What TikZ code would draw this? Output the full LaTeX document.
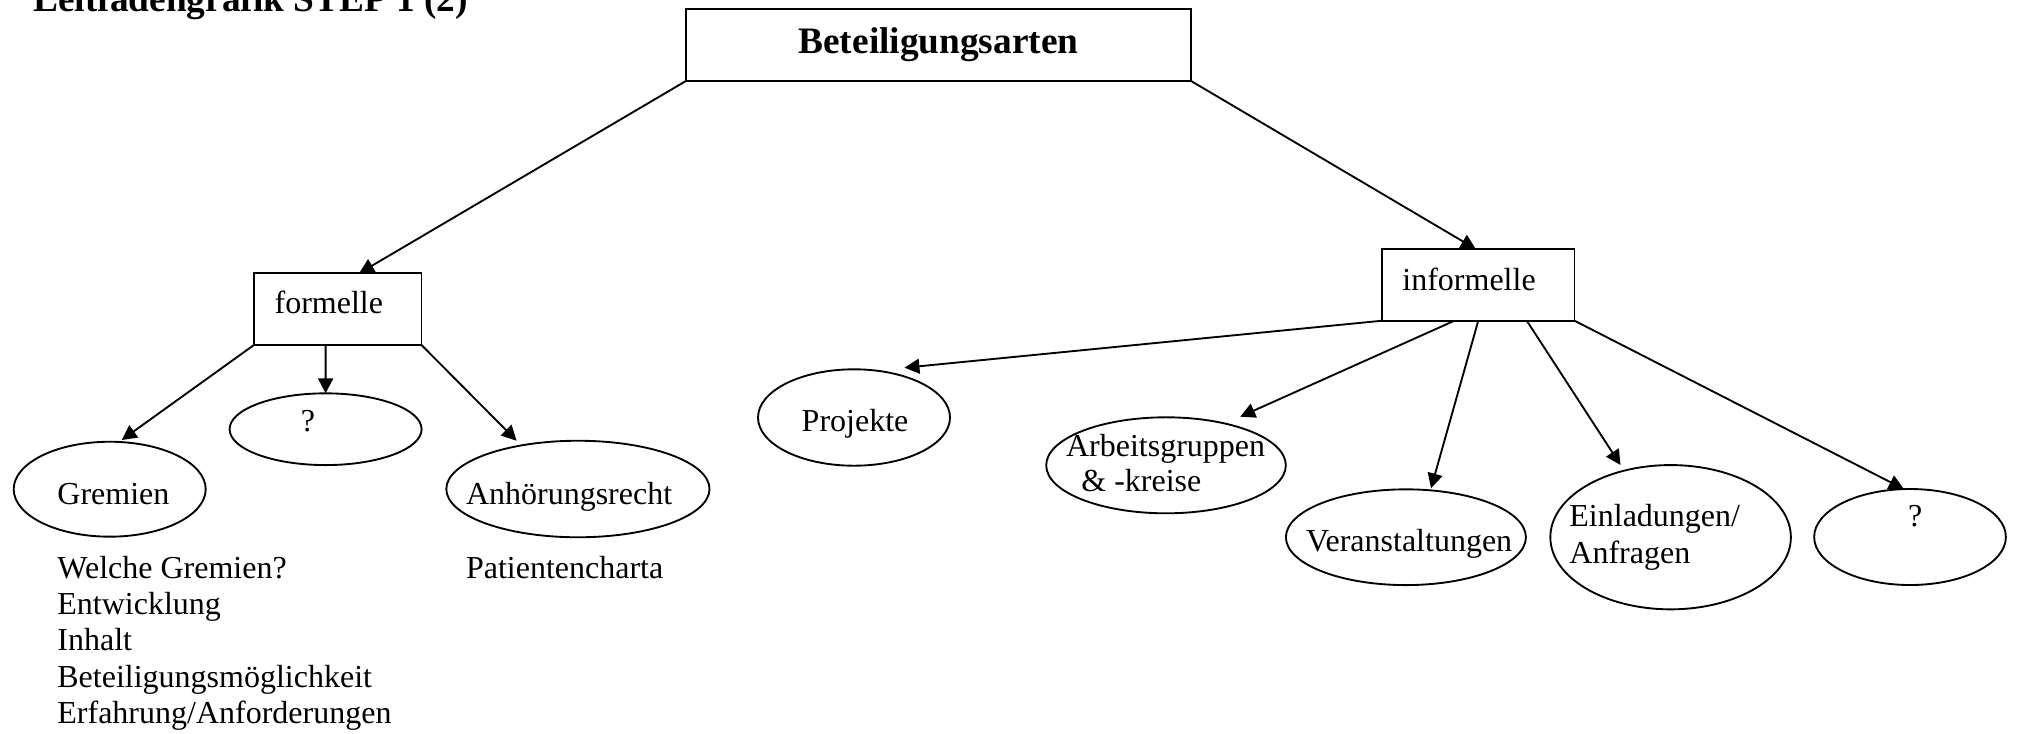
\documentclass[tikz,border=0pt]{standalone}
\usepackage{fontspec}
\setmainfont{Liberation Serif}
\usetikzlibrary{shapes.geometric,arrows.meta,calc}
\begin{document}
\begin{tikzpicture}[x=0.375pt,y=-0.375pt,
  every node/.style={inner sep=0pt, outer sep=0pt},
  body/.style={font=\fontsize{12}{13.6}\selectfont},
  txt/.style={body, anchor=base west},
  boldfont/.style={font=\bfseries\fontsize{14}{16}\selectfont},
  boxnode/.style={draw, line width=0.7pt, rectangle},
  ell/.style={draw, line width=0.7pt, ellipse},
  arr/.style={line width=0.7pt, -{Triangle[length=5.6pt,width=5.6pt]}},
]
\clip (0,0) rectangle (2018,733);

% title (cut off at the top)
\node[txt, boldfont] (title) at (33.5,11.5) {Leitfadengrafik STEP 1 (2)};

% root
\node[boxnode, boldfont, minimum width=189.1pt, minimum height=26.8pt] (root) at (938.5,45) {Beteiligungsarten};

% second level boxes
\node[boxnode, minimum width=62.85pt, minimum height=26.9pt] (form) at (337.7,309.15) {};
\node[txt] (formt) at ($(form.center)+(-63.1,3.85)$) {formelle};
\node[boxnode, minimum width=72.2pt, minimum height=26.9pt] (inf) at (1478.25,284.85) {};
\node[txt] (inft) at ($(inf.center)+(-75.85,5.15)$) {informelle};

% formelle children
\node[ell, minimum width=72pt, minimum height=35.6pt] (grem) at (109.7,489.2) {};
\node[txt] (gremt) at ($(grem.center)+(-52.3,14.8)$) {Gremien};
\node[ell, minimum width=72pt, minimum height=26.9pt] (qa) at (325.6,429.2) {};
\node[txt] (qat) at ($(qa.center)+(-24.8,2.5)$) {?};
\node[ell, minimum width=98.7pt, minimum height=36.2pt] (anh) at (577.9,489) {};
\node[txt] (anht) at ($(anh.center)+(-111.9,15)$) {Anhörungsrecht};

\node[txt] (lista) at ($(grem.center)+(-52.3,89.1)$) {Welche Gremien?};
\node[txt] (listb) at ($(lista.base west)+(0,36.25)$) {Entwicklung};
\node[txt] (listc) at ($(listb.base west)+(0,36.25)$) {Inhalt};
\node[txt] (listd) at ($(listc.base west)+(0,36.25)$) {Beteiligungsmöglichkeit};
\node[txt] (liste) at ($(listd.base west)+(0,36.25)$) {Erfahrung/Anforderungen};
\node[txt] (pat) at ($(anh.center)+(-111.9,89.3)$) {Patientencharta};

% informelle children
\node[ell, minimum width=72pt, minimum height=36.15pt] (proj) at (854,417.5) {};
\node[txt] (projt) at ($(proj.center)+(-52.3,14.2)$) {Projekte};
\node[ell, minimum width=89.85pt, minimum height=36pt] (arb) at (1166,465.3) {};
\node[txt] (arbta) at ($(arb.center)+(-99.9,-8.6)$) {Arbeitsgruppen};
\node[txt] (arbtb) at ($(arbta.base west)+(15.3,35)$) {\& -kreise};
\node[ell, minimum width=90pt, minimum height=35.9pt] (ver) at (1405.9,537.2) {};
\node[txt] (vert) at ($(ver.center)+(-99.9,13.8)$) {Veranstaltungen};
\node[ell, minimum width=90.2pt, minimum height=54.1pt] (einl) at (1670.6,537.2) {};
\node[txt] (einlta) at ($(einl.center)+(-101.2,-10.5)$) {Einladungen/};
\node[txt] (einltb) at ($(einlta.base west)+(0,36.6)$) {Anfragen};
\node[ell, minimum width=71.9pt, minimum height=36pt] (qb) at (1910,537) {};
\node[txt] (qbt) at ($(qb.center)+(-2,-10.3)$) {?};

% connectors
\draw[arr] (root.south west) -- ($(form.north)+(21.4,0)$);
\draw[arr] (root.south east) -- ($(inf.north)+(-2.5,0)$);

\draw[arr] (form.south west) -- ($(grem.center)+(12,-49.2)$);
\draw[arr] ($(form.south west)!0.428!(form.south east)$) -- (qa.north);
\draw[arr] (form.south east) -- ($(anh.center)+(-61.3,-48.3)$);

\draw[arr] (inf.south west) -- ($(proj.center)+(50.5,-49.8)$);
\draw[arr] ($(inf.south west)!0.376!(inf.south east)$) -- ($(arb.center)+(74.2,-48.6)$);
\draw[arr] (inf.south) -- ($(ver.center)+(25.1,-48.9)$);
\draw[arr] ($(inf.south west)!0.752!(inf.south east)$) -- ($(einl.center)+(-50.1,-72.2)$);
\draw[arr] (inf.south east) -- ($(qb.center)+(-6.2,-48)$);
\end{tikzpicture}
\end{document}
